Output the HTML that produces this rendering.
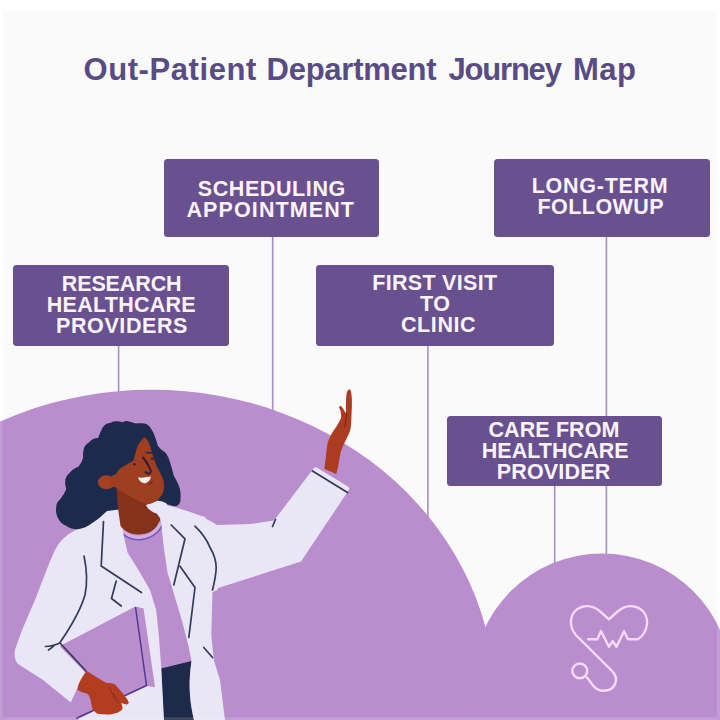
<!DOCTYPE html>
<html lang="en">
<head>
<meta charset="utf-8">
<title>Out-Patient Department Journey Map</title>
<style>
html,body{margin:0;padding:0;}
body{width:720px;height:720px;overflow:hidden;background:#ffffff;position:relative;font-family:"Liberation Sans",sans-serif;}
#art{position:absolute;left:0;top:0;width:720px;height:720px;display:block;}
.tw{position:absolute;top:0;}
.title{position:absolute;font-weight:bold;font-size:31px;line-height:31px;color:#594c85;white-space:nowrap;margin:0;}
.box{position:absolute;background:#69518f;border-radius:3.5px;}
.ln{position:absolute;color:#fbf3fd;font-weight:bold;font-size:21.5px;line-height:21.5px;white-space:nowrap;}
</style>
</head>
<body>
<svg id="art" width="720" height="720" viewBox="0 0 720 720">
  <rect x="3" y="10.5" width="713.7" height="709.5" fill="#fafafa"/>
  <!-- connector lines -->
  <g stroke="#a78fc5" stroke-width="1.6" fill="none">
    <line x1="118.6" y1="340" x2="118.6" y2="400"/>
    <line x1="272.7" y1="230" x2="272.7" y2="415"/>
    <line x1="427.9" y1="340" x2="427.9" y2="520"/>
    <line x1="554.7" y1="480" x2="554.7" y2="570"/>
    <line x1="606.4" y1="230" x2="606.4" y2="560"/>
  </g>
  <!-- hills -->
  <ellipse cx="151.5" cy="700.8" rx="343.8" ry="311.1" fill="#ba8dce"/>
  <circle cx="602" cy="682.6" r="129.2" fill="#ba8dce"/>

  <!-- heart + stethoscope icon -->
  <g fill="none" stroke="#f6dcf8" stroke-width="2.4" stroke-linecap="round" stroke-linejoin="round">
    <path d="M588.2 639.2 L597.4 639.2 L600.9 630.9 L608.9 646.8 L612.7 641.1 L616.5 646.8 L624.1 631.2 L627.9 639.2 L637.9 639.2 C643 636 646.3 631 647 624 C647.6 616 643.5 609.5 636 607 C629 604.8 622 607.5 617 612 L608.9 619.3 L600.8 612 C595.8 607.5 588.8 604.8 581.8 607 C574.3 609.5 570.4 616 571 624 C571.6 630 575 635 579.8 638.9 L611.9 670.9 C615.5 674.5 617 679 615.3 683.5 C613.5 688 609 690.8 603.5 690.8 C599 690.8 595.5 688.5 593 685.5 L587 677.5"/>
    <circle cx="579.8" cy="670.9" r="7.4"/>
  </g>

  <!-- doctor -->
  <g id="doctor">

    <!-- shirt -->
    <path fill="#ba8dce" d="M118 526 L161.3 520 L163.8 547.5 L167.5 572.5 L175 597.5 L182.5 622.5 L188.8 647.5 L192 662 L161 669.5 L158.8 635 L156.2 610 L150 590 L140 572.5 L127.5 552.5 Z"/>
    <path d="M120.5 528.5 C126 535.5 134 538 141 537.3 C150 536.5 158 531 161.5 522" fill="none" stroke="#cfaee2" stroke-width="4"/>
    <path d="M120 531.5 C126 538 134 540.3 141 539.6 C150.5 538.8 159 533 162.5 524.5" fill="none" stroke="#7459b8" stroke-width="1.6"/>
    <!-- pants -->
    <path fill="#1d2a49" d="M161 668.5 L191.5 661 C189 680 188 695 194 720 L163.5 720 Z"/>
    <!-- coat: raised sleeve (upper arm + forearm) -->
    <path fill="#e9e6f6" d="M165 505 C180 508 200 514 217 525 L250 524 L274 520.5 L313.5 468.5 Q315 466.5 317 467.8 L348 486.5 Q350 488 348.8 490 L301 561.5 L215 589 L200 560 Z"/>
    <!-- coat: right front panel -->
    <path fill="#e9e6f6" d="M147.5 505.5 L160 515 L165 505 L205 517 L218 545 L217.5 590 L212.5 592 L211.3 635 L213.8 660 L220 680 L225 720 L194 720 C188.5 695 189 680 191.5 661 L188.8 647.5 L182.5 622.5 L175 597.5 L167.5 572.5 L163.8 547.5 L161 521 Z"/>
    <!-- coat: left panel + left arm -->
    <path fill="#e9e6f6" d="M108 503 L100 514 C94 520 88 524.5 80 528 C68 533 60 540 55 550 C48 565 42 582 35 600 C28 616 20 634 15 650 C14 656 15 661 18 664 L43 680 L72 703.5 L85 672 L60 646 L134 607.5 L147 685 L80 718 L78 720 L164 720 L161.3 668.5 L158.8 635 L156.2 610 L150 590 L140 572.5 L127.5 552.5 L122.5 530 L130 520 L125 500 L113 508 Z"/>
    <!-- clipboard -->
    <path fill="#ba8dce" d="M60 646.5 L135.5 606.5 L143.5 608.5 L155 687 L146.5 686 L76 719 L74 720 L70 704 L85 672 Z"/>
    <path d="M135.5 607 L146.5 685.5 L76 718.5" fill="none" stroke="#4f3a8c" stroke-width="1.5" stroke-linejoin="round"/>
    <!-- lower hand -->
    <path fill="#b23d20" d="M86.9 671 C90 673 93 675 96.3 676.9 C99.5 679 103 681 106.3 683.1 C109 683 111.5 683 113.8 683.8 C115.8 685 117.3 687 118.8 688.8 C121 691.2 123 693.8 125 696.3 C126.5 698.3 128 700.3 128.8 702.5 C128.5 704 127.5 704.6 126.3 704.4 C124.5 704.2 122.8 703.7 121.3 703.1 C122 705 122.5 707 122.5 708.8 C121.8 710.3 120.3 711.3 118.8 711.9 C116 713.2 113 714 110 714.4 C106 714.6 101.5 714.3 97.5 713.8 C95.3 712.5 93.8 710.8 92.5 708.8 C91.5 706 91 703 90.6 700 C90 697.5 88.8 695.5 87.5 693.8 C84 693 80.5 691.7 77.5 690 C77.5 687.8 78 685.8 78.8 683.8 C80 681 81.5 678.5 83 676.3 Z"/>
    <path d="M109.4 687.5 C111.5 691.5 113.5 695.8 115 700 M113.5 693.5 C115.5 696.5 117 699.5 118.3 702.5" fill="none" stroke="#8e2f1a" stroke-width="1" stroke-linecap="round"/>
    <!-- raised hand -->
    <path fill="#ab3c20" d="M324.4 469 C324.8 465 325.3 461.5 325.8 457.8 C326.2 453.5 326.6 449.5 327.2 445.3 C328 441.5 329.2 438.5 330.7 435.6 C332.5 432 334.8 429 336.9 425.8 C338.5 423 340 420.5 341.1 417.5 C341.3 415 340.9 412.8 340.4 410.6 C339.8 409.3 339.2 408.2 339 407.1 C339.6 406 340.6 405.9 341.4 406.4 C342.8 407.8 343.8 409.5 344.6 411.25 L346 413.3 C345.8 409 345.8 405 346 400.8 C346.1 398 346.3 395.5 346.7 393.2 C347.2 391 348 389.6 349.4 389.4 C350.5 389.6 351 390.6 351.1 391.8 C351.6 394.8 351.8 397.8 351.9 400.8 C352 405.5 351.8 410 351.5 414.7 C351.4 419 351.2 423 350.8 427.2 C350.3 430.5 349.3 433 348 435.6 C346.8 438.5 345.3 441 343.9 443.9 C342.5 447 341.2 450 340.4 453.6 C339.5 458 338.8 462 338.3 466.1 L336.25 474 Z"/>
    <path d="M346.6 413.5 C346.2 418 345.5 422.5 344.6 427" fill="none" stroke="#7a2a18" stroke-width="1.2" stroke-linecap="round"/>
    <!-- coat lines -->
    <g fill="none" stroke="#333a5a" stroke-width="1.7" stroke-linecap="round" stroke-linejoin="round">
      <path d="M103.5 521.5 L101.2 566 L141.5 592.5"/>
      <path d="M116.2 581 L111.5 598.5 L121.3 606"/>
      <path d="M84 556 C87 570 87.5 583 85 595 C80 612 70 628 60 642.5 M45.5 646.5 C50.5 646.5 55.5 645 60 643 L86 671 M48.5 650 C51 648.5 53 646.8 54.5 645"/>
      <path d="M171.2 525 L185 538.8 L173.8 585"/>
      <path d="M180 566.2 L195 587.5 L188.8 637.5"/>
      <path d="M195 526.2 C202 533 207 540 210 547.5 C214 554 216 560.5 216.2 567.5 C216 575 214.5 582 212.5 590"/>
      <path d="M203.8 647.5 L212.5 657.5"/>
      <path d="M275.5 519.5 L272.5 526.5"/>
      <path d="M312.5 471 L347.5 492.5" stroke-width="1.8"/>
    </g>
    <!-- hair back -->
    <path fill="#1e2a4c" d="M130 421.7 C127 420.5 125 420.8 122.5 422.3 C119 421 114 420.8 111 422.8 C106 423 103 426 101.5 430 C99.5 433 99.5 435.5 98 438 C94.5 438 91.5 439.5 89.5 442 C86 444 83.5 447 83.5 450.5 C82.5 453 83.5 455.5 83 458 C82 461.5 80.5 464 78.5 466.5 C75 468 71.5 470 69.5 473 C66.5 475.5 65 478.5 65.3 481.5 C64.5 484.5 66.5 487 66 490 C64.5 493 62.5 496 60.5 499 C57.5 501.5 56 504.5 56.2 508 C55.5 512 56.5 515.5 58.5 519 C60 522.5 63 524.5 66.5 526 C70 528.5 73.5 529.3 77.5 529.2 C81.5 529 85 527.5 88.5 525.5 C92 523.5 95.5 521 99 518.3 L107 511 L148 506 L162 501 C164.5 503 167 504.5 170 505 C173 506.5 176 506.5 178 505.2 C180 503.5 180.8 501 180.5 498 C180.8 494 180.5 491 179.5 487.6 C178 483 175.5 479 173.5 475 C172.5 471 171.8 467.5 170.5 464 C169.5 460 168 456.5 166 453.3 C163.5 451 160 449 158 446 C157 443 156.2 440 155 437 C154 433.5 152.5 430.5 150.5 428 C149 425.5 147 424 144.5 423.5 C141.5 423 138.5 423.2 135.5 423.5 C133.5 422.5 132 422 130 421.7 Z"/>
    <!-- neck -->
    <path fill="#86311a" d="M116.5 487 L118 508 L120.5 526 C124 531 131 534.5 138 534.5 C146 534.5 153 531.5 156.5 526.5 C158.5 523.5 160 521 160.5 518.5 L158.5 516 L149.5 503 Z"/>
    <!-- right collar over neck -->
    <path fill="#e9e6f6" d="M146 505 C148 509 151 512 157.5 513.8 C160 517 161.5 521 163.8 527.5 L175 520 L166 503 L158 500.5 Z"/>
    <!-- ear -->
    <ellipse cx="106.5" cy="482.3" rx="8.6" ry="7" fill="#a34122"/>
    <!-- face -->
    <path fill="#9d3f20" d="M144.3 437 C146.5 438.5 148 440.5 149 443 C150.2 446 151 449 151.8 452 C152.8 455.5 154 459 155.2 462.5 C157 467.5 160 472 162.3 477 C163.8 480.5 164.3 484 164 487.6 C163.8 491.5 162.5 494.5 160.3 497 C157.5 500.5 153.5 503 149.5 504 C145.5 504.3 141 502.5 137 500 C132.5 498 128 495.5 124.4 493 C121.5 491.5 119 490 117 488 L112 486 L110 477 L116 474 C117.5 471.5 119 469.5 121 467.8 C125 465.5 129.5 463 133.5 460.5 C135 455.5 136 450.5 137.5 446 C139.5 442.5 141.8 439.5 144.3 437 Z"/>
    <!-- face details -->
    <path d="M143 457.5 C145.5 460.5 148 464 149.6 467.8 C150.8 470 151 472.3 149.8 473.3 C148.5 474 146.8 473.3 145.6 472" fill="none" stroke="#3d1a2c" stroke-width="2.1" stroke-linecap="round"/>
    <path d="M146.3 452.4 L152.8 453" fill="none" stroke="#2a2340" stroke-width="1.5" stroke-linecap="round"/>
    <circle cx="134.4" cy="464.3" r="1.3" fill="#5c1320"/>
    <circle cx="152.3" cy="458.8" r="1.3" fill="#5c1320"/>
    <path fill="#fdf3f5" d="M138 477.6 C142 478 146.5 477.6 150.8 476.6 C150.6 480 148 483 144.5 483.2 C141.5 483.2 139 481 138 477.6 Z"/>
    <path d="M148.8 484.3 C150.3 483.8 151.5 482.8 152.2 481.3" fill="none" stroke="#5c1320" stroke-width="1" stroke-linecap="round"/>
  </g>
  <!-- faint light frame at the edges -->
  <path d="M0 0 H720 V720 H0 Z M2.5 0 V717.3 H717 V0 Z" fill="#ffffff" fill-opacity="0.14" fill-rule="evenodd"/>
</svg>

<!--TEXT-START-->
<h1 class="title" style="left:0;top:53.65px;width:720px;height:31px;">
  <span class="tw" style="left:83.50px;letter-spacing:0.580px;">Out-Patient</span> 
  <span class="tw" style="left:266.50px;letter-spacing:-0.244px;">Department</span> 
  <span class="tw" style="left:448.50px;letter-spacing:-1.200px;">Journey</span> 
  <span class="tw" style="left:573.00px;letter-spacing:0.500px;">Map</span>
</h1>
<div class="box" style="left:163.8px;top:159.1px;width:215.6px;height:77.5px;">
  <div class="ln" style="left:33.95px;top:19.69px;letter-spacing:0.600px;">SCHEDULING</div>
  <div class="ln" style="left:22.70px;top:40.69px;letter-spacing:1.100px;">APPOINTMENT</div>
</div>
<div class="box" style="left:494.2px;top:159.0px;width:215.5px;height:77.5px;">
  <div class="ln" style="left:37.55px;top:16.79px;letter-spacing:0.725px;">LONG-TERM</div>
  <div class="ln" style="left:43.30px;top:37.54px;letter-spacing:0.457px;">FOLLOWUP</div>
</div>
<div class="box" style="left:12.5px;top:265.0px;width:216.1px;height:81.1px;">
  <div class="ln" style="left:49.25px;top:8.79px;letter-spacing:-0.114px;">RESEARCH</div>
  <div class="ln" style="left:34.25px;top:30.04px;letter-spacing:0.267px;">HEALTHCARE</div>
  <div class="ln" style="left:43.50px;top:50.79px;letter-spacing:0.600px;">PROVIDERS</div>
</div>
<div class="box" style="left:315.6px;top:264.7px;width:238.6px;height:81.4px;">
  <div class="ln" style="left:56.65px;top:7.84px;letter-spacing:0.300px;">FIRST VISIT</div>
  <div class="ln" style="left:104.40px;top:29.09px;letter-spacing:0.600px;">TO</div>
  <div class="ln" style="left:85.40px;top:49.84px;letter-spacing:0.600px;">CLINIC</div>
</div>
<div class="box" style="left:447.2px;top:415.8px;width:215.3px;height:70.6px;">
  <div class="ln" style="left:41.30px;top:3.74px;letter-spacing:0.100px;">CARE FROM</div>
  <div class="ln" style="left:34.55px;top:24.99px;letter-spacing:0.044px;">HEALTHCARE</div>
  <div class="ln" style="left:49.55px;top:45.74px;letter-spacing:0.171px;">PROVIDER</div>
</div>
<!--TEXT-END-->
</body>
</html>
